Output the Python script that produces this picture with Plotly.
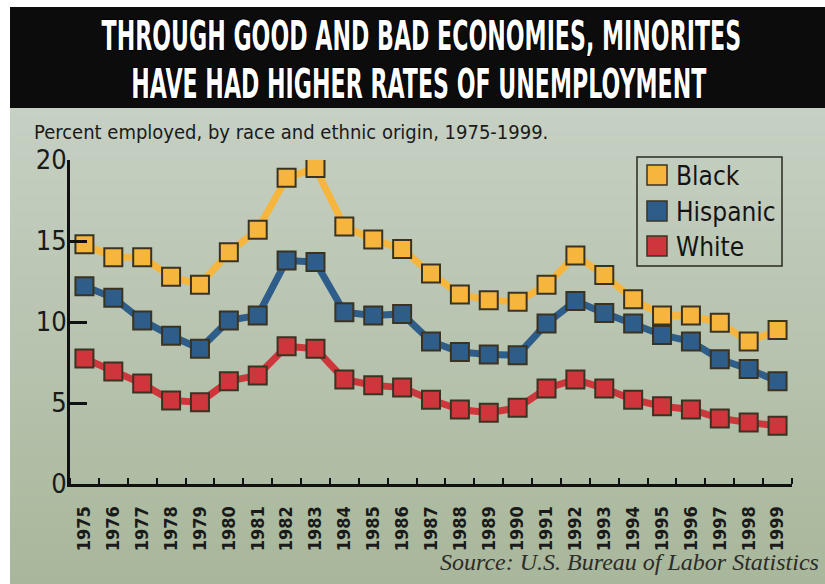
import plotly.graph_objects as go

# Unemployment rates (%) by race and ethnic origin, 1975-1999
years = list(range(1975, 2000))
black = [14.8, 14.0, 14.0, 12.8, 12.3, 14.3, 15.7, 18.9, 19.5, 15.9, 15.1, 14.5,
         13.0, 11.7, 11.35, 11.25, 12.3, 14.1, 12.9, 11.4, 10.4, 10.4, 9.95, 8.8, 9.5]
hispanic = [12.2, 11.5, 10.1, 9.15, 8.35, 10.1, 10.4, 13.8, 13.7, 10.6, 10.4, 10.5,
            8.8, 8.15, 8.0, 7.95, 9.9, 11.3, 10.55, 9.9, 9.2, 8.8, 7.7, 7.1, 6.35]
white = [7.75, 6.95, 6.2, 5.15, 5.05, 6.35, 6.7, 8.5, 8.35, 6.45, 6.1, 5.95,
         5.2, 4.6, 4.4, 4.7, 5.9, 6.45, 5.9, 5.2, 4.8, 4.6, 4.05, 3.8, 3.6]
series_names = ["Black", "Hispanic", "White"]
y_ticks = [0, 5, 10, 15, 20]

W, H = 825, 584
# plot area in pixels
PL, PR, PT, PB = 70, 792, 160, 484

def px(x):
    return (x - PL) / (PR - PL)

def py(y):
    return (PB - y) / (PB - PT)

fills = {"Black": "#f6b63e", "Hispanic": "#2f5d8a", "White": "#cf363b"}
series = {"Black": black, "Hispanic": hispanic, "White": white}
edge = "#3a3322"
cond = "DejaVu Sans Condensed, Liberation Sans Narrow, sans-serif"

fig = go.Figure()
for name in series_names:
    fig.add_trace(go.Scatter(
        x=years, y=series[name], mode="lines+markers", name=name,
        line=dict(color=fills[name], width=7),
        marker=dict(symbol="square", size=18, color=fills[name],
                    line=dict(color=edge, width=2)),
        showlegend=False,
    ))

shapes = []
# background: soft vertical gradient from grey-green to deeper green
n = 60
top_c = (198, 208, 195)
bot_c = (168, 183, 155)
y_start, y_end = 108, H
for i in range(n):
    t = i / (n - 1)
    c = tuple(int(round(top_c[k] + (bot_c[k] - top_c[k]) * t)) for k in range(3))
    ya = y_start + (y_end - y_start) * i / n
    yb = y_start + (y_end - y_start) * (i + 1) / n + 1
    shapes.append(dict(type="rect", xref="paper", yref="paper",
                       x0=px(10), x1=px(W), y0=py(yb), y1=py(ya),
                       fillcolor="rgb(%d,%d,%d)" % c, line=dict(width=0),
                       layer="below"))
# title bar
shapes.append(dict(type="rect", xref="paper", yref="paper",
                   x0=px(10), x1=px(W), y0=py(108), y1=py(7),
                   fillcolor="#0b0c0b", line=dict(width=0), layer="below"))
# legend box
shapes.append(dict(type="rect", xref="paper", yref="paper",
                   x0=px(637), x1=px(782), y0=py(266), y1=py(157),
                   fillcolor="rgba(0,0,0,0)", line=dict(color="#2a2a22", width=1.5)))

annotations = []
legend_y = [175, 211, 246]
for name, ly in zip(series_names, legend_y):
    shapes.append(dict(type="rect", xref="paper", yref="paper",
                       x0=px(647), x1=px(667), y0=py(ly + 10), y1=py(ly - 10),
                       fillcolor=fills[name], line=dict(color=edge, width=1.5)))
    annotations.append(dict(text=name, xref="paper", yref="paper",
                            x=px(674), y=py(ly + 1), xanchor="left", yanchor="middle",
                            showarrow=False,
                            font=dict(family=cond, size=26, color="#141414")))

title_font = dict(family="DejaVu Sans, sans-serif",
                  size=41, color="white", weight="bold",
                  shadow="1px 1px 0 #000, -1px -1px 0 #000, 1px -1px 0 #000, -1px 1px 0 #000")
annotations.append(dict(text="THROUGH GOOD AND BAD ECONOMIES, MINORITES",
                        xref="paper", yref="paper", x=px(421), y=py(36),
                        xanchor="center", yanchor="middle", showarrow=False,
                        font=title_font))
annotations.append(dict(text="HAVE HAD HIGHER RATES OF UNEMPLOYMENT",
                        xref="paper", yref="paper", x=px(418), y=py(84),
                        xanchor="center", yanchor="middle", showarrow=False,
                        font=title_font))
annotations.append(dict(text="Percent employed, by race and ethnic origin, 1975-1999.",
                        xref="paper", yref="paper", x=px(32), y=py(132),
                        xanchor="left", yanchor="middle", showarrow=False,
                        font=dict(family=cond, size=20, color="#1a1a1a")))
annotations.append(dict(text="Source: U.S. Bureau of Labor Statistics",
                        xref="paper", yref="paper", x=px(821), y=py(562),
                        xanchor="right", yanchor="middle", showarrow=False,
                        font=dict(family="Liberation Serif, serif", size=24,
                                  color="#2c2c28", style="italic")))

fig.update_layout(
    width=W, height=H,
    margin=dict(l=PL, r=W - PR, t=PT, b=H - PB, pad=0),
    paper_bgcolor="white", plot_bgcolor="rgba(0,0,0,0)",
    shapes=shapes, annotations=annotations,
    xaxis=dict(range=[1974.5, 1999.5], tickvals=years, ticktext=[str(y) for y in years],
               tickangle=-90, ticks="", showgrid=False, zeroline=False,
               showline=True, linecolor="#111", linewidth=3,
               ticklabelstandoff=12,
               tickfont=dict(family=cond, size=18, color="#1a1a1a", weight="bold"),
               minor=dict(tick0=1974.5, dtick=1, ticks="inside", ticklen=6,
                          tickwidth=2, tickcolor="#111", showgrid=False)),
    yaxis=dict(range=[0, 20], tickvals=y_ticks, ticks="inside", ticklen=17,
               tickwidth=3, tickcolor="#111", showgrid=False, zeroline=False,
               showline=True, linecolor="#111", linewidth=3,
               ticklabelstandoff=-5,
               tickfont=dict(family=cond, size=27, color="#1a1a1a")),
)

# condensed display type for the two headline lines
post = """
var gd = document.getElementById('{plot_id}');
gd.querySelectorAll('text.annotation-text').forEach(function (t) {
  var s = t.textContent;
  if (s.indexOf('THROUGH') === 0 || s.indexOf('HAVE HAD') === 0) {
    t.style.transformBox = 'fill-box';
    t.style.transformOrigin = 'center';
    t.style.transform = 'scaleX(0.54)';
  }
});
"""

fig.write_html("out.html", post_script=post)
